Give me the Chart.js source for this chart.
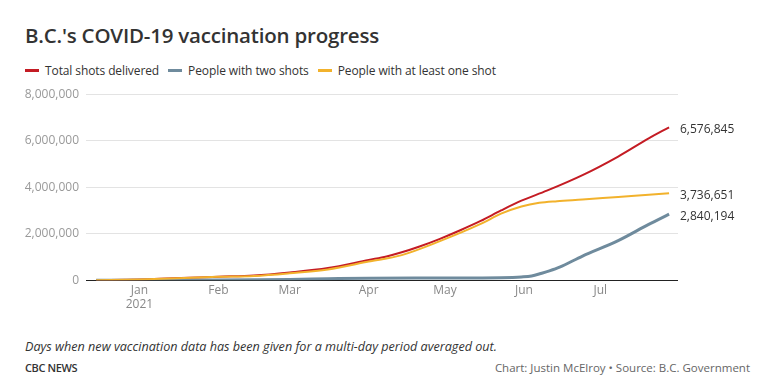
<!DOCTYPE html>
<html>
<head>
<meta charset="utf-8">
<script src="https://cdn.jsdelivr.net/npm/chart.js@4/dist/chart.umd.min.js"></script>
<style>
  html, body { margin: 0; padding: 0; background: #fff; }
  body { width: 763px; height: 381px; position: relative; overflow: hidden; font-family: "Open Sans", sans-serif; color: #333; }
  #title { position: absolute; left: 25px; top: 21px; font-size: 20.5px; font-weight: 600; color: #333; white-space: nowrap; letter-spacing: -0.2px; }
  #legend { position: absolute; left: 25px; top: 62px; font-size: 12px; color: #333; white-space: nowrap; letter-spacing: -0.1px; }
  .item { display: inline-block; margin-right: 9px; }
  .sw { display: inline-block; width: 14px; height: 3px; vertical-align: middle; margin-right: 6px; position: relative; top: -1px; }
  #wrap { position: absolute; left: 0; top: 80px; width: 763px; height: 235px; }
  #note { position: absolute; left: 25px; top: 338px; font-size: 12.6px; font-style: italic; color: #333; white-space: nowrap; }
  #brand { position: absolute; left: 25px; top: 360px; font-size: 11px; font-weight: 600; color: #333; letter-spacing: -0.4px; }
  #credit { position: absolute; right: 13px; top: 360px; font-size: 11.5px; color: #666; white-space: nowrap; }
</style>
</head>
<body>
<div id="title">B.C.'s COVID-19 vaccination progress</div>
<div id="legend"></div>
<div id="wrap"><canvas id="c"></canvas></div>
<div id="note">Days when new vaccination data has been given for a multi-day period averaged out.</div>
<div id="brand">CBC NEWS</div>
<div id="credit">Chart: Justin McElroy • Source: B.C. Government</div>
<script>
// Days counted from Jan 1, 2021 (day 0)
const seriesNames = ["Total shots delivered", "People with two shots", "People with at least one shot"];
const seriesColors = ["#c41c24", "#6f8b9d", "#f2b22c"];

const totalDays  = [-17, 0, 31, 45, 59, 74, 90, 97, 103, 110, 118, 126, 134, 142, 150, 160, 174, 188, 200, 208];
const totalShots = [0, 30000, 150000, 200000, 330000, 520000, 870000, 1020000, 1200000, 1450000, 1780000, 2150000, 2550000, 3000000, 3420000, 3850000, 4520000, 5320000, 6100000, 6576845];

const twoDays  = [-17, 0, 31, 45, 59, 74, 90, 120, 142, 150, 154, 158, 161, 165, 174, 188, 200, 208];
const twoShots = [0, 0, 5000, 15000, 30000, 60000, 87000, 95000, 110000, 140000, 180000, 300000, 400000, 560000, 1040000, 1700000, 2400000, 2840194];

const oneDays  = [-17, 0, 31, 45, 59, 74, 90, 103, 118, 134, 142, 150, 157, 164, 174, 188, 200, 208];
const oneShot  = [0, 30000, 145000, 185000, 300000, 460000, 800000, 1080000, 1680000, 2420000, 2860000, 3170000, 3330000, 3400000, 3470000, 3580000, 3670000, 3736651];

const monthTicks  = [0, 31, 59, 90, 120, 151, 181];
const monthLabels = [["Jan", "2021"], "Feb", "Mar", "Apr", "May", "Jun", "Jul"];
const yTicks = [0, 2000000, 4000000, 6000000, 8000000];

const legendOrder = [0, 1, 2];
document.getElementById('legend').innerHTML = legendOrder.map(i =>
  `<span class="item"><span class="sw" style="background:${seriesColors[i]}"></span>${seriesNames[i]}</span>`).join('');

const toPts = (xs, ys) => xs.map((x, i) => ({x: x, y: ys[i]}));
const fmt = v => v.toLocaleString('en-US');

const endLabels = {
  id: 'endLabels',
  afterDatasetsDraw(chart) {
    const ctx = chart.ctx;
    const ys = chart.scales.y;
    const items = chart.data.datasets.map(ds => {
      const last = ds.data[ds.data.length - 1];
      return {v: last.y, y: ys.getPixelForValue(last.y) + 2};
    }).sort((a, b) => a.y - b.y);
    for (let i = 1; i < items.length; i++) {
      if (items[i].y - items[i - 1].y < 21) items[i].y = items[i - 1].y + 21;
    }
    ctx.save();
    ctx.font = '12px "Open Sans"';
    ctx.fillStyle = '#333';
    ctx.textAlign = 'left';
    ctx.textBaseline = 'middle';
    items.forEach(it => ctx.fillText(fmt(it.v), chart.chartArea.right + 2, it.y));
    ctx.restore();
  }
};

new Chart(document.getElementById('c'), {
  type: 'line',
  data: {
    datasets: [
      {label: seriesNames[2], data: toPts(oneDays, oneShot), borderColor: seriesColors[2], borderWidth: 2},
      {label: seriesNames[1], data: toPts(twoDays, twoShots), borderColor: seriesColors[1], borderWidth: 3},
      {label: seriesNames[0], data: toPts(totalDays, totalShots), borderColor: seriesColors[0], borderWidth: 2}
    ]
  },
  options: {
    responsive: true,
    maintainAspectRatio: false,
    animation: false,
    layout: {padding: {top: 3, right: 85, left: 0, bottom: 0}},
    elements: {point: {radius: 0}, line: {cubicInterpolationMode: 'monotone'}},
    plugins: {legend: {display: false}, tooltip: {enabled: false}},
    scales: {
      x: {
        type: 'linear', min: -21, max: 211.5,
        grid: {display: false, drawTicks: false},
        border: {display: false},
        afterBuildTicks: s => { s.ticks = monthTicks.map(v => ({value: v})); },
        ticks: {
          autoSkip: false, maxRotation: 0, padding: 3,
          color: '#888', font: {family: 'Open Sans', size: 12},
          callback: (v) => monthLabels[monthTicks.indexOf(v)]
        }
      },
      y: {
        min: 0, max: 8000000,
        afterFit: s => { s.width = 86; },
        afterBuildTicks: s => { s.ticks = yTicks.map(v => ({value: v})); },
        grid: {
          drawTicks: false,
          color: c => c.tick && c.tick.value === 0 ? '#222' : '#e3e3e3',
          lineWidth: 1
        },
        border: {display: false},
        ticks: {
          padding: 7, color: '#999', font: {family: 'Open Sans', size: 12},
          callback: v => fmt(v)
        }
      }
    }
  },
  plugins: [endLabels]
});
</script>
</body>
</html>
